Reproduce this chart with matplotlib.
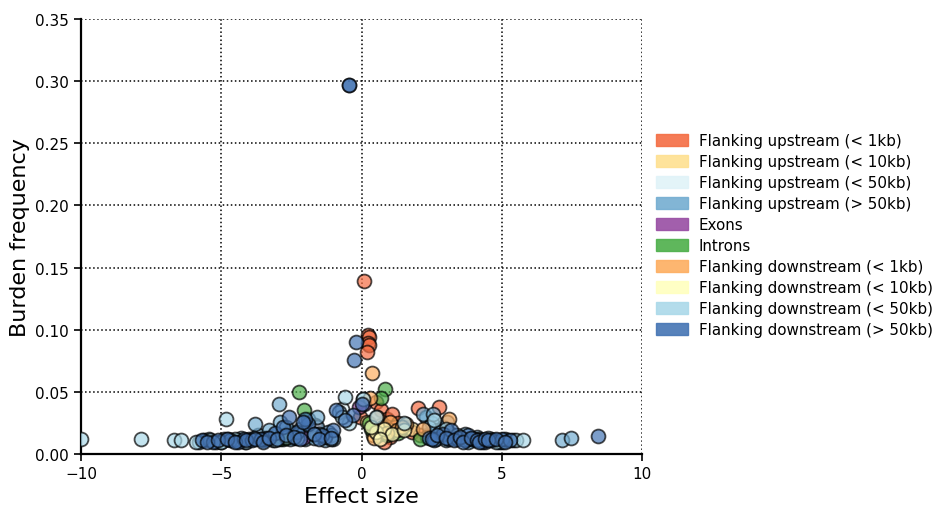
import numpy as np
import matplotlib.pyplot as plt
from matplotlib.patches import Patch

# Region categories and their colours
labels = ['Flanking upstream (< 1kb)', 'Flanking upstream (< 10kb)',
          'Flanking upstream (< 50kb)', 'Flanking upstream (> 50kb)',
          'Exons', 'Introns',
          'Flanking downstream (< 1kb)', 'Flanking downstream (< 10kb)',
          'Flanking downstream (< 50kb)', 'Flanking downstream (> 50kb)']
colors = ['#f46d43', '#fee090', '#e0f3f8', '#74add1', '#984ea3', '#4daf4a',
          '#fdae61', '#ffffbf', '#abd9e9', '#4575b4']

# effect size / burden frequency per category
up1_x = [0.09, 0.23, 0.25, 0.22, 0.28, 2.0, 2.76, 0.5, 0.7, 0.9, 1.1, 1.3, 1.6, 1.8,
         2.1, 0.4, 0.6, 1.0, 1.4, 0.8, 2.4, 1.2, -1.66, -0.05, 0.2]
up1_y = [0.139, 0.096, 0.094, 0.089, 0.088, 0.037, 0.038, 0.042, 0.035, 0.028, 0.032,
         0.025, 0.022, 0.018, 0.015, 0.020, 0.017, 0.014, 0.020, 0.010, 0.016, 0.022,
         0.023, 0.030, 0.082]

up10_x = [0.4, 0.7, 1.0, 1.8, 0.2]
up10_y = [0.015, 0.023, 0.019, 0.020, 0.026]

up50_x = [0.05, -0.7, 2.9, 0.6]
up50_y = [0.044, 0.036, 0.022, 0.015]

up_far_x = [-5.6, -5.2, -4.9, -4.6, -4.3, -4.0, -3.7, -3.5, -3.2, -3.0, -2.8, -2.6, -2.4,
            -2.2, -2.0, -1.8, -1.6, -1.4, -1.2, -1.0, -3.8, -3.3, -2.9, -2.5, -1.9, -1.5,
            -2.94, -0.8, 2.3, 2.5, 2.7, 2.9, 3.1, 3.3, 3.5, 3.7, 3.9, 4.1, 4.3, 4.6, 4.9,
            5.2, 2.4, 2.8, 3.2, 3.6, 4.0, 2.2, 7.15, 7.47,
            -5.8, -5.45, -5.0, -4.75, -4.45, -4.15, -3.85, -3.4, -3.15, -2.85, -2.55,
            -2.3, -2.1, -1.7, -1.3, -1.1, 2.35, 2.65, 3.0, 3.4, 3.8, 4.2, 4.4, 4.8,
            5.0, 5.4, -1.6, -2.7, 2.55, 3.05]
up_far_y = [0.011, 0.010, 0.012, 0.011, 0.013, 0.012, 0.015, 0.011, 0.014, 0.016, 0.012,
            0.018, 0.013, 0.020, 0.012, 0.015, 0.022, 0.014, 0.018, 0.012, 0.024, 0.019,
            0.026, 0.017, 0.028, 0.016, 0.040, 0.034, 0.030, 0.025, 0.019, 0.021, 0.017,
            0.015, 0.013, 0.016, 0.012, 0.014, 0.011, 0.012, 0.010, 0.011, 0.022, 0.018,
            0.014, 0.012, 0.011, 0.032, 0.011, 0.013,
            0.010, 0.012, 0.010, 0.012, 0.011, 0.010, 0.013, 0.012, 0.011, 0.014, 0.012,
            0.016, 0.017, 0.013, 0.011, 0.015, 0.014, 0.012, 0.011, 0.012, 0.010, 0.012,
            0.010, 0.011, 0.010, 0.011, 0.030, 0.022, 0.032, 0.026]

exon_x = [-2.1, 0.08, -0.1]
exon_y = [0.013, 0.040, 0.038]

intron_x = [-2.23, -2.05, -2.9, -2.7, 0.84, 0.7, 0.35, 0.9, 2.1, 1.3, 0.25]
intron_y = [0.050, 0.035, 0.012, 0.013, 0.052, 0.045, 0.020, 0.015, 0.012, 0.017, 0.025]

down1_x = [0.37, 0.3, 0.55, 0.75, 1.0, 1.25, 1.6, 2.2, 0.45, 0.9, 1.45, 3.1]
down1_y = [0.065, 0.045, 0.030, 0.022, 0.026, 0.019, 0.024, 0.020, 0.013, 0.017, 0.022,
           0.028]

down10_x = [0.5, 0.8, 1.1, 0.35, 1.5, 0.65]
down10_y = [0.018, 0.020, 0.016, 0.022, 0.019, 0.012]

down50_x = [-10.0, -7.85, -6.7, -6.45, -5.9, -5.4, -5.0, -4.83, -4.5, -4.1, -3.6, -3.1,
            -2.7, -2.3, -1.7, -1.1, -0.59, -0.45, -0.7, 0.05, 0.5, 1.5, 2.6, 3.0, 3.4,
            3.8, 4.2, 4.5, 4.8, 5.1, 5.5, 5.76]
down50_y = [0.012, 0.012, 0.011, 0.011, 0.010, 0.011, 0.010, 0.028, 0.012, 0.010, 0.012,
            0.011, 0.014, 0.013, 0.016, 0.012, 0.046, 0.025, 0.030, 0.044, 0.030, 0.025,
            0.027, 0.020, 0.015, 0.012, 0.011, 0.013, 0.010, 0.012, 0.011, 0.011]

down_far_x = [-0.45, -0.43, -0.2, -0.27, -5.7, -5.3, -4.7, -4.4, -4.2, -3.9, -3.4, -3.1,
              -2.8, -2.3, -1.9, -1.3, -1.0, -0.9, -2.0, -3.6, -1.4, -0.3, -0.6, 0.0,
              2.4, 2.6, 2.9, 3.1, 3.4, 3.7, 4.0, 4.3, 4.6, 5.0, 5.3, 3.2, 3.8, 8.43,
              -2.6, -2.1,
              -5.5, -5.1, -4.8, -4.5, -4.1, -3.8, -3.5, -3.3, -3.0, -2.7, -2.4, -2.2,
              -1.7, -1.5, -1.1, 2.5, 2.7, 3.0, 3.3, 3.5, 3.6, 3.9, 4.1, 4.2, 4.4, 4.5,
              4.8, 5.1]
down_far_y = [0.297, 0.2965, 0.090, 0.076, 0.011, 0.010, 0.011, 0.010, 0.012, 0.011,
              0.013, 0.017, 0.022, 0.018, 0.024, 0.014, 0.019, 0.035, 0.028, 0.012,
              0.015, 0.031, 0.027, 0.040, 0.013, 0.011, 0.016, 0.012, 0.013, 0.011,
              0.012, 0.010, 0.011, 0.012, 0.011, 0.019, 0.015, 0.0145, 0.030, 0.026,
              0.010, 0.011, 0.012, 0.010, 0.011, 0.012, 0.010, 0.013, 0.012, 0.015,
              0.014, 0.012, 0.016, 0.012, 0.013, 0.012, 0.015, 0.013, 0.011, 0.014,
              0.010, 0.013, 0.011, 0.010, 0.012, 0.011, 0.012, 0.010]

xs = [up1_x, up10_x, up50_x, up_far_x, exon_x, intron_x,
      down1_x, down10_x, down50_x, down_far_x]
ys = [up1_y, up10_y, up50_y, up_far_y, exon_y, intron_y,
      down1_y, down10_y, down50_y, down_far_y]

fig = plt.figure(figsize=(9.36, 5.06), dpi=100)
ax = fig.add_axes([0.0865, 0.1008, 0.5995, 0.8597])

for x, y, c in zip(xs, ys, colors):
    ax.scatter(x, y, s=100, c=c, edgecolors='black', linewidths=1.3, alpha=0.7,
               zorder=3, clip_on=True)

ax.set_xlim(-10, 10)
ax.set_ylim(0, 0.35)
ax.set_xticks([-10, -5, 0, 5, 10])
ax.set_yticks(np.arange(0, 0.351, 0.05))
ax.yaxis.set_major_formatter(plt.FormatStrFormatter('%.2f'))
ax.grid(True, color='black', linestyle=':', linewidth=1.1)
ax.set_axisbelow(True)
for side in ['top', 'right']:
    ax.spines[side].set_visible(False)
for side in ['left', 'bottom']:
    ax.spines[side].set_linewidth(1.6)
ax.tick_params(direction='out', length=5, width=1.2, labelsize=11,
               top=False, right=False)
ax.set_xlabel('Effect size', fontsize=16)
ax.set_ylabel('Burden frequency', fontsize=16)

handles = [Patch(facecolor=c, edgecolor=c, alpha=0.9) for c in colors]
ax.legend(handles, labels, loc='center left', bbox_to_anchor=(1.0, 0.503),
          frameon=False, fontsize=10.9, handlelength=2.05, handleheight=0.85,
          labelspacing=0.4, handletextpad=0.75, borderaxespad=0.55)

fig.savefig('out.png', dpi=100)
